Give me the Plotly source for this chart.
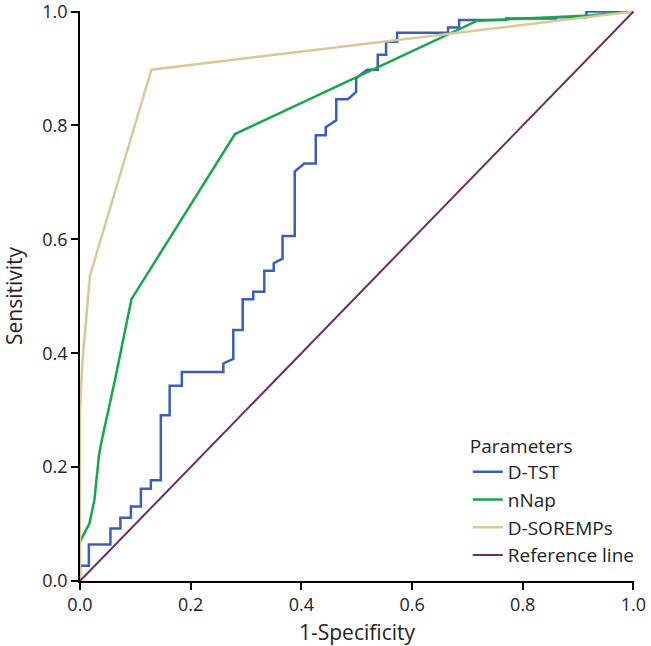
import plotly.graph_objects as go

# ROC curves
dtst_x = [0, 0, 0.016, 0.016, 0.055, 0.055, 0.073, 0.073, 0.092, 0.092, 0.110, 0.110,
          0.128, 0.128, 0.146, 0.146, 0.162, 0.162, 0.184, 0.184, 0.259, 0.259, 0.277,
          0.277, 0.294, 0.294, 0.313, 0.313, 0.333, 0.333, 0.350, 0.350, 0.366, 0.366,
          0.388, 0.388, 0.405, 0.426, 0.426, 0.444, 0.444, 0.463, 0.463, 0.484, 0.499,
          0.499, 0.519, 0.538, 0.538, 0.553, 0.553, 0.573, 0.573, 0.665, 0.665, 0.685,
          0.685, 0.770, 0.770, 0.860, 0.860, 0.915, 0.915, 1.0]
dtst_y = [0, 0.027, 0.027, 0.064, 0.064, 0.092, 0.092, 0.111, 0.111, 0.131, 0.131, 0.162,
          0.162, 0.177, 0.177, 0.291, 0.291, 0.343, 0.343, 0.367, 0.367, 0.382, 0.390,
          0.441, 0.441, 0.495, 0.495, 0.508, 0.508, 0.545, 0.545, 0.558, 0.566, 0.606,
          0.606, 0.719, 0.733, 0.733, 0.783, 0.783, 0.797, 0.809, 0.846, 0.846, 0.859,
          0.883, 0.898, 0.898, 0.924, 0.924, 0.947, 0.947, 0.963, 0.963, 0.972, 0.972,
          0.985, 0.985, 0.988, 0.988, 0.990, 0.990, 1.0, 1.0]

nnap_x = [0, 0.017, 0.026, 0.034, 0.038, 0.063, 0.093, 0.280, 0.718, 0.82, 0.92, 1.0]
nnap_y = [0.069, 0.101, 0.142, 0.218, 0.241, 0.352, 0.495, 0.785, 0.984, 0.988, 0.993, 1.0]

dsor_x = [0, 0, 0.004, 0.018, 0.129, 1.0]
dsor_y = [0, 0.30, 0.38, 0.536, 0.898, 1.0]

ref_x = [0, 1]
ref_y = [0, 1]

names = ["D-TST", "nNap", "D-SOREMPs", "Reference line"]
colors = ["#3a5ebd", "#15a84a", "#dcc797", "#6b2d5f"]

fig = go.Figure()
series = [(dtst_x, dtst_y), (nnap_x, nnap_y), (dsor_x, dsor_y), (ref_x, ref_y)]
for (xs, ys), nm, col in zip(series, names, colors):
    fig.add_trace(go.Scatter(x=xs, y=ys, mode="lines", name=nm,
                             line=dict(color=col, width=2.5 if nm != "Reference line" else 2)))

fnt = "Open Sans, Noto Sans, sans-serif"
axis_common = dict(range=[0, 1.001], tickvals=[0, 0.2, 0.4, 0.6, 0.8, 1.0], tickformat=".1f",
                   showline=True, linecolor="black", linewidth=1.5, ticks="outside",
                   ticklen=7, tickwidth=1.5, tickcolor="black", showgrid=False, zeroline=False,
                   ticklabeloverflow="allow", automargin=False,
                   tickfont=dict(size=18, color="#222", family=fnt))

fig.update_xaxes(title=dict(text="1-Specificity", font=dict(size=21, color="#222", family=fnt)),
                 **axis_common)
fig.update_yaxes(title=dict(text="Sensitivity", font=dict(size=21, color="#222", family=fnt)),
                 **axis_common)

fig.update_layout(
    width=651, height=646,
    margin=dict(l=80, r=15, t=11, b=65),
    paper_bgcolor="white", plot_bgcolor="white",
    font=dict(family=fnt, color="#222"),
    showlegend=True,
    legend=dict(x=0.70, y=0.268, xanchor="left", yanchor="top",
                title=dict(text="Parameters", font=dict(size=19)),
                font=dict(size=19), bgcolor="rgba(0,0,0,0)", tracegroupgap=0),
)

fig.write_html("out.html", config={"displayModeBar": False},
               post_script="document.body.style.margin='0';")
